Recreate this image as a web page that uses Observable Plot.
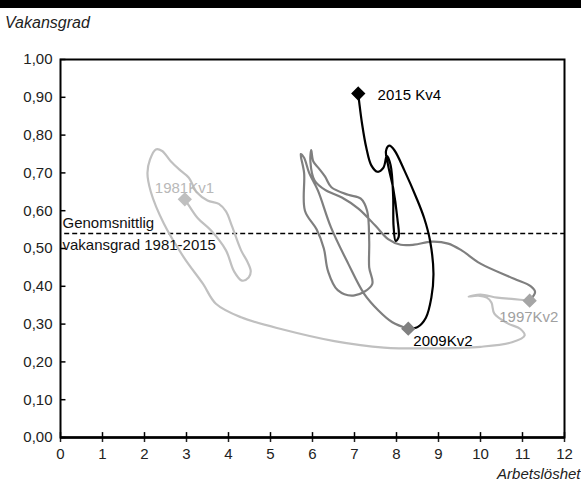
<!DOCTYPE html>
<html>
<head>
<meta charset="utf-8">
<script src="https://cdn.jsdelivr.net/npm/d3@7"></script>
<script src="https://cdn.jsdelivr.net/npm/@observablehq/plot@0.6"></script>
<style>
  html, body { margin: 0; padding: 0; background: white; }
  body { width: 581px; height: 483px; overflow: hidden; font-family: "Liberation Sans Narrow", "Liberation Sans", Arial, sans-serif; }
  #band { height: 8px; background: black; }
  #ylab { height: 30px; line-height: 29px; padding-left: 5px; font-size: 16px; font-style: italic; color: #222; }
</style>
</head>
<body>
<div id="band"></div>
<div id="ylab">Vakansgrad</div>
<div id="chart"></div>
<script>
// Series 1981Kv1 – 1997Kv2 (unemployment %, vacancy rate %)
const series1981 = [[2.96,0.63],[3.05,0.615],[3.27,0.58],[3.58,0.548],[3.94,0.495],[4.13,0.44],[4.32,0.415],[4.48,0.423],[4.53,0.44],[4.45,0.465],[4.3,0.495],[4.08,0.56],[3.94,0.598],[3.77,0.618],[3.5,0.627],[3.25,0.648],[3.05,0.688],[2.86,0.706],[2.63,0.73],[2.42,0.758],[2.27,0.762],[2.13,0.735],[2.07,0.70],[2.15,0.65],[2.46,0.566],[2.94,0.476],[3.39,0.407],[3.7,0.354],[4.3,0.318],[5.32,0.285],[6.52,0.255],[7.7,0.238],[9.0,0.236],[10.0,0.24],[10.75,0.252],[11.05,0.27],[10.95,0.287],[10.65,0.302],[10.33,0.328],[10.26,0.357],[10.15,0.37],[9.95,0.375],[9.72,0.373],[10.0,0.378],[10.4,0.37],[10.8,0.366],[11.17,0.362]];
// Series 1997Kv2 – 2009Kv2
const series1997 = [[11.17,0.362],[11.3,0.385],[11.2,0.40],[10.8,0.42],[10.0,0.46],[9.55,0.495],[9.23,0.513],[8.83,0.518],[8.42,0.51],[8.1,0.51],[7.8,0.525],[7.5,0.56],[7.1,0.605],[6.7,0.635],[6.3,0.655],[6.05,0.68],[5.95,0.73],[5.97,0.76],[6.02,0.73],[6.15,0.712],[6.3,0.69],[6.45,0.662],[6.85,0.642],[7.15,0.632],[7.3,0.6],[7.35,0.52],[7.35,0.45],[7.42,0.405],[7.0,0.376],[6.6,0.39],[6.37,0.44],[6.27,0.5],[6.1,0.55],[5.82,0.6],[5.8,0.70],[5.72,0.75],[5.8,0.74],[5.92,0.70],[6.13,0.653],[6.44,0.556],[6.85,0.46],[7.23,0.38],[7.57,0.336],[7.9,0.305],[8.28,0.288]];
// Series 2009Kv2 – 2015Kv4
const series2009 = [[8.28,0.288],[8.5,0.292],[8.7,0.317],[8.83,0.37],[8.88,0.434],[8.8,0.52],[8.66,0.58],[8.47,0.635],[8.19,0.706],[7.95,0.76],[7.83,0.772],[7.75,0.758],[7.8,0.72],[7.92,0.66],[8.02,0.58],[8.05,0.53],[7.98,0.52],[7.93,0.56],[7.92,0.64],[7.86,0.72],[7.77,0.745],[7.69,0.714],[7.55,0.703],[7.4,0.72],[7.28,0.767],[7.18,0.83],[7.12,0.88],[7.09,0.91]];

const seriesNames = ["1981-1997", "1997-2009", "2009-2015"];
const seriesColors = ["#c0c0c0", "#7f7f7f", "#000000"];

const markerLabels = ["1981Kv1", "1997Kv2", "2009Kv2", "2015 Kv4"];
const markerX = [2.96, 11.17, 8.28, 7.09];
const markerY = [0.63, 0.362, 0.288, 0.91];
const markerColors = ["#bfbfbf", "#a5a5a5", "#808080", "#000000"];
const labelX = [2.95, 11.15, 8.4, 7.55];
const labelY = [0.66, 0.318, 0.255, 0.905];
const labelAnchor = ["middle", "middle", "start", "start"];
const labelColors = ["#b8b8b8", "#a0a0a0", "#000000", "#000000"];

const averageVacancy = 0.54;
const averageLabel = ["Genomsnittlig", "vakansgrad 1981-2015"];
const averageLabelY = [0.568, 0.51];

const xTicks = [0,1,2,3,4,5,6,7,8,9,10,11,12];
const yTicks = [0,0.1,0.2,0.3,0.4,0.5,0.6,0.7,0.8,0.9,1.0];

const lineData = [series1981, series1997, series2009].flatMap((s, i) =>
  s.map(([x, y]) => ({x, y, series: seriesNames[i]})));
const markers = markerLabels.map((l, i) => ({
  label: l, x: markerX[i], y: markerY[i], c: markerColors[i],
  lx: labelX[i], ly: labelY[i], anchor: labelAnchor[i], lc: labelColors[i]
}));
const fmt = d => d3.format(".2f")(d).replace(".", ",");
const FF = '"Liberation Sans Narrow", "Liberation Sans", Arial, sans-serif';

const chart = Plot.plot({
  width: 581,
  height: 445,
  marginLeft: 60,
  marginRight: 17,
  marginTop: 21,
  marginBottom: 46,
  style: {fontFamily: FF, fontSize: "15px", color: "#222", background: "white"},
  x: {domain: [0, 12]},
  y: {domain: [0, 1]},
  color: {domain: seriesNames, range: seriesColors},
  marks: [
    Plot.ruleY([averageVacancy], {x1: 0.1, x2: 12, stroke: "black", strokeWidth: 1.5, strokeDasharray: "5,3"}),
    Plot.line(lineData, {x: "x", y: "y", z: "series", stroke: "series", strokeWidth: 2.2, curve: "catmull-rom"}),
    ...markers.filter((d) => d.anchor === "middle").map(d => Plot.text([d], {x: "lx", y: "ly", text: "label", fill: "lc", fontSize: 15, textAnchor: "middle"})),
    ...markers.filter((d) => d.anchor === "start").map(d => Plot.text([d], {x: "lx", y: "ly", text: "label", fill: "lc", fontSize: 15, textAnchor: "start"})),
    Plot.dot(markers, {x: "x", y: "y", symbol: "diamond2", r: 5.5, fill: "c", stroke: "c"}),
    Plot.text(averageLabel, {x: 0, y: (d, i) => averageLabelY[i], text: d => d, dx: 2, textAnchor: "start", fontSize: 15, fill: "#111"}),
    Plot.ruleY(yTicks, {x1: 0, x2: 0.13, stroke: "black", strokeWidth: 1.5}),
    Plot.ruleX(xTicks, {y1: 0, y2: 0.013, stroke: "black", strokeWidth: 1.5}),
    Plot.axisY({ticks: yTicks, tickFormat: fmt, tickSize: 0, tickPadding: 8, label: null, fontSize: 15}),
    Plot.axisX({ticks: xTicks, tickFormat: d => String(d), tickSize: 5, tickPadding: 6, label: null, fontSize: 15, strokeWidth: 1.5}),
    Plot.frame({stroke: "black", strokeWidth: 2}),
    Plot.ruleY([0], {stroke: "black", strokeWidth: 2.5}),
    Plot.text(["Arbetslöshet"], {frameAnchor: "bottom-right", lineAnchor: "middle", text: d => d, dx: 16, dy: 37, textAnchor: "end", fontStyle: "italic", fontSize: 15, fill: "#222"})
  ]
});
document.getElementById("chart").appendChild(chart);
</script>
</body>
</html>
